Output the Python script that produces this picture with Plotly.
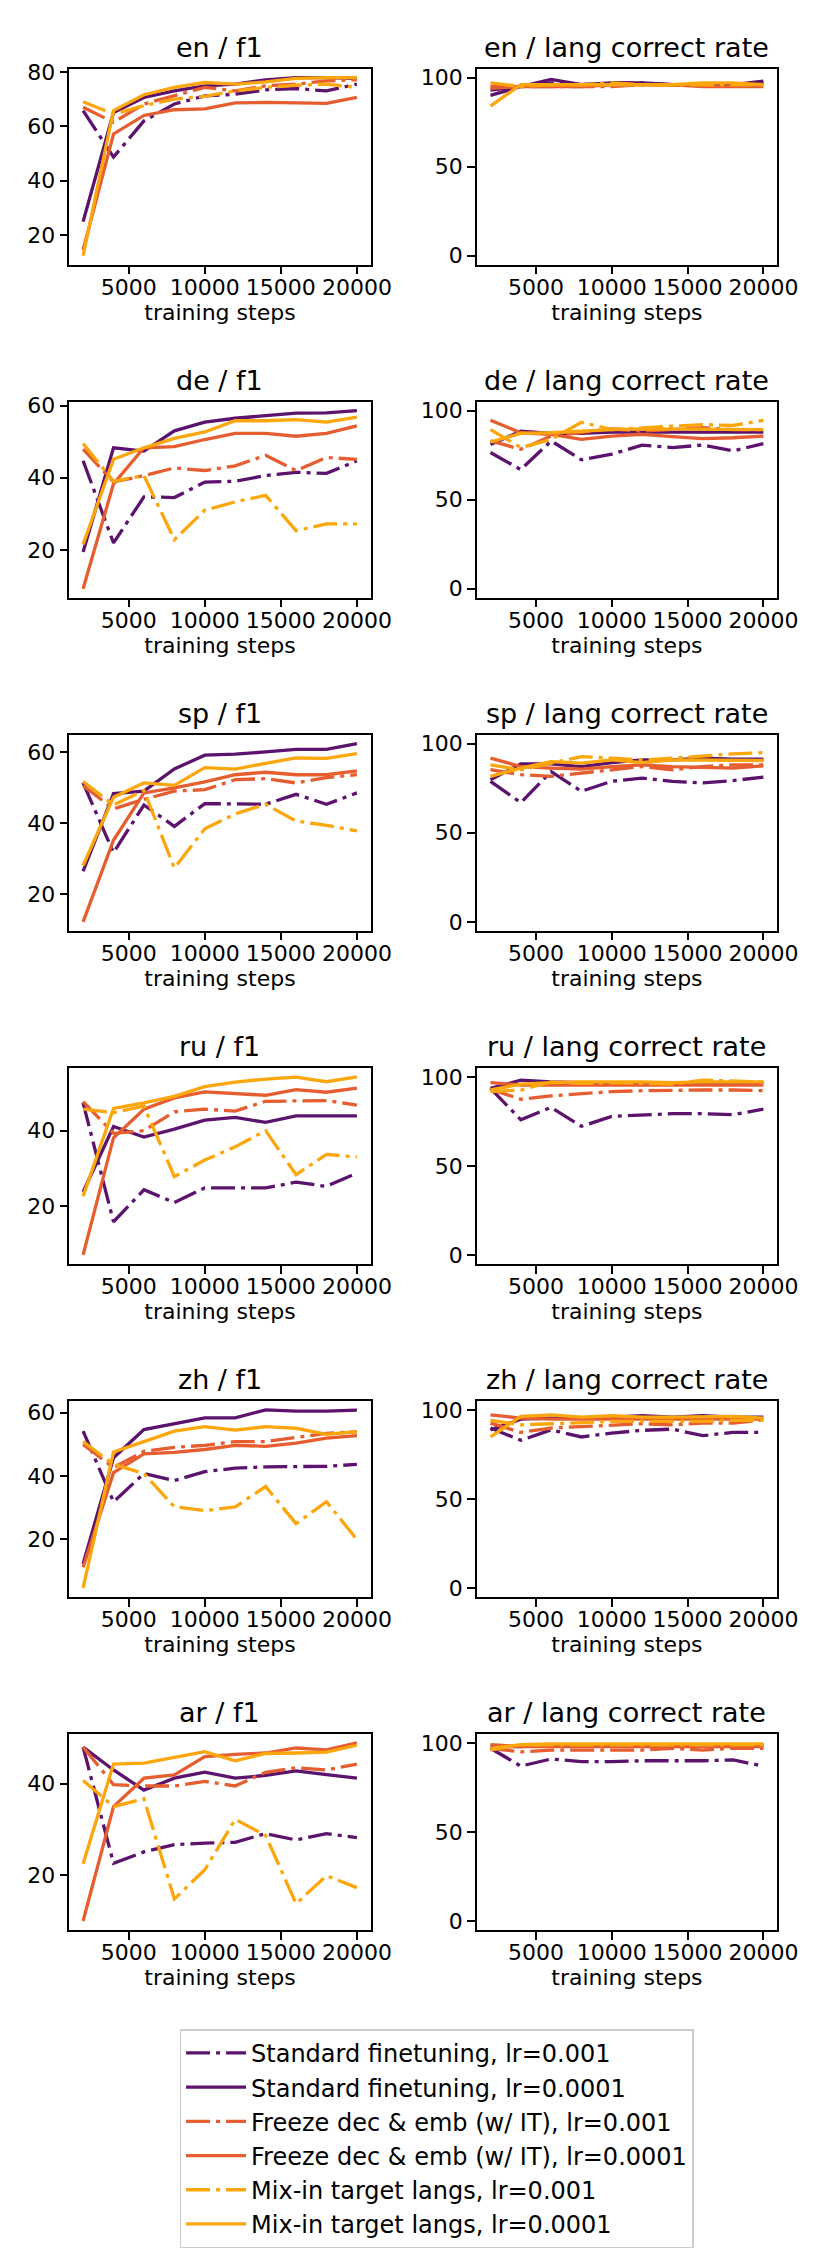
import plotly.graph_objects as go

# training steps shared by every panel
steps = [2000, 4000, 6000, 8000, 10000, 12000, 14000, 16000, 18000, 20000]
step_ticks = [5000, 10000, 15000, 20000]
step_labels = ["5000", "10000", "15000", "20000"]

langs = ["en", "de", "sp", "ru", "zh", "ar"]

methods = [
    "Standard finetuning, lr=0.001",
    "Standard finetuning, lr=0.0001",
    "Freeze dec & emb (w/ IT), lr=0.001",
    "Freeze dec & emb (w/ IT), lr=0.0001",
    "Mix-in target langs, lr=0.001",
    "Mix-in target langs, lr=0.0001",
]

# f1 per language, one row per method (same order as methods)
en_f1 = [
    [65.8, 48.7, 62, 68.2, 71.2, 71.8, 73.4, 73.9, 73, 75.5],
    [25, 65.1, 70.6, 73, 74.9, 75.5, 77.1, 77.9, 77.9, 77.6],
    [67, 61.5, 68.2, 71.2, 74.3, 73, 74.9, 75.5, 76.7, 77.1],
    [14.6, 57.2, 64, 66.1, 66.4, 68.6, 68.8, 68.6, 68.4, 70.6],
    [69, 64.5, 67.6, 70, 71, 73, 74.3, 75.1, 75.5, 74.3],
    [12.5, 65.8, 71.6, 74.3, 76.1, 75.5, 76.3, 77.6, 77.9, 77.9],
]
de_f1 = [
    [44.7, 21.9, 34.7, 34.5, 38.8, 39, 40.6, 41.5, 41.2, 44.7],
    [19.4, 48.3, 47.4, 53, 55.4, 56.5, 57.2, 57.9, 58, 58.6],
    [47.9, 38.8, 40.6, 42.7, 42, 43.3, 46.2, 42, 45.6, 45.1],
    [9.2, 38.3, 48.3, 48.6, 50.6, 52.3, 52.3, 51.5, 52.3, 54.4],
    [49.5, 39, 40.6, 22.8, 31, 33.3, 35.1, 25.3, 27.2, 27.2],
    [21.5, 45.1, 48.3, 50.9, 52.7, 55.8, 55.8, 56.1, 55.4, 56.8],
]
sp_f1 = [
    [51.3, 31.7, 45.1, 39.1, 45.5, 45.3, 45.3, 48.1, 45.3, 48.5],
    [26.5, 48.3, 49, 55.2, 59.1, 59.4, 60, 60.7, 60.7, 62.3],
    [50.5, 44, 46.7, 49, 49.4, 52.2, 52.5, 51.3, 52.8, 53.6],
    [12.3, 35.2, 48.5, 49.9, 51.6, 53.6, 54.3, 53.6, 53.6, 54.7],
    [51.7, 45.1, 49.2, 27.4, 38.4, 42.6, 45.3, 40.6, 39.4, 37.8],
    [28.1, 47.3, 51.3, 50.6, 55.6, 55.2, 56.8, 58.3, 58.2, 59.5],
]
ru_f1 = [
    [47.4, 15.8, 24.3, 20.9, 24.8, 24.8, 24.8, 26.3, 25.2, 28.7],
    [23.7, 41.1, 38.3, 40.4, 42.8, 43.5, 42.2, 43.9, 43.9, 43.9],
    [47.7, 39.3, 40, 45, 45.7, 45.2, 47.8, 47.8, 48, 46.8],
    [7, 38.1, 45.7, 48.7, 50.3, 49.8, 49.4, 50.9, 50.2, 51.3],
    [45.7, 44.8, 46.5, 27.8, 32.2, 35.7, 40, 28.3, 33.7, 33],
    [22.6, 45.9, 47.4, 49.1, 51.7, 52.9, 53.7, 54.2, 53, 54.3],
]
zh_f1 = [
    [54.2, 31.9, 40.8, 38.6, 41.4, 42.5, 42.9, 42.9, 43.1, 43.7],
    [12.3, 45.8, 54.7, 56.6, 58.4, 58.4, 60.9, 60.5, 60.5, 60.8],
    [50, 42.7, 47.8, 49.1, 49.7, 50.9, 50.9, 52.2, 53.5, 54],
    [11.2, 41.1, 47, 47.5, 48.4, 49.7, 49.4, 50.4, 52, 52.8],
    [50.9, 43.7, 40.8, 30.3, 29.1, 30.3, 36.7, 25, 31.9, 20],
    [4.7, 47.6, 50.9, 54.2, 55.6, 54.5, 55.6, 55.1, 53.2, 54],
]
ar_f1 = [
    [48, 22.6, 25.1, 26.7, 27, 27.2, 29.1, 27.7, 29.1, 28.2],
    [48, 43, 38.6, 41.2, 42.5, 41.2, 41.8, 42.8, 42, 41.2],
    [48, 39.8, 39.5, 39.5, 40.5, 39.5, 42.5, 43.5, 43, 44.3],
    [10, 35, 41.2, 41.9, 45.9, 46.4, 46.7, 47.8, 47.4, 48.9],
    [40.7, 35, 36.7, 14.8, 21.2, 32.2, 28.7, 13.8, 19.9, 17.3],
    [22.5, 44.3, 44.5, 45.7, 47, 45, 46.6, 46.7, 46.9, 48.4],
]

# language correct rate per language, same row order
en_lang = [
    [93, 95, 97, 96, 97, 97, 96, 96, 96, 97],
    [90, 95, 99, 96, 97, 97, 96, 96, 96, 98],
    [95, 95, 95, 95, 95, 96, 96, 96, 96, 96],
    [94, 95, 95, 95, 96, 96, 96, 95, 95, 95],
    [97, 95, 96, 96, 97, 96, 96, 96, 96, 96],
    [84, 96, 96, 96, 96, 96, 96, 97, 97, 96],
]
de_lang = [
    [76.5, 66.9, 83, 72.4, 75.6, 80.6, 79.3, 80.7, 77.4, 81.5],
    [81, 88.5, 87.2, 87.2, 88, 88, 87.6, 87.6, 88, 88],
    [83, 78.3, 85.7, 87.6, 89.8, 88.5, 89.4, 90.4, 89.4, 89.4],
    [94.6, 87.6, 86.7, 83.9, 85.7, 86.7, 85.4, 84.3, 84.8, 85.7],
    [89.4, 79.3, 83.9, 93.5, 89.4, 90.4, 91.3, 92.2, 91.7, 94.6],
    [82.4, 87.2, 87.6, 88.5, 89.4, 89.8, 89.8, 89.8, 89.4, 89.4],
]
sp_lang = [
    [78.9, 66.9, 84.4, 73.3, 78.9, 80.7, 78.9, 78, 79.3, 81.3],
    [79.8, 88.7, 88.7, 87.2, 89.4, 90.9, 90.9, 91.9, 91.3, 91.3],
    [85.4, 82.6, 81.7, 83.5, 85.4, 87.2, 85.4, 87.2, 88.1, 88.1],
    [91.9, 87.2, 86.3, 85.7, 87.2, 88.1, 87.2, 86.9, 86.3, 87.6],
    [88.1, 85.4, 89.1, 92.8, 91.9, 90.9, 91.9, 93.1, 94.3, 95],
    [81.7, 86.3, 90, 89.1, 90.9, 89.4, 90.9, 90.9, 90.9, 90.6],
]
ru_lang = [
    [93.5, 75.9, 82.8, 72.2, 77.8, 78.7, 79.3, 79.3, 78.7, 81.9],
    [93.5, 98.1, 97.2, 96.7, 96.7, 96.7, 96.3, 96.7, 96.7, 96.7],
    [93, 87.4, 89.3, 90.7, 91.7, 92.2, 92.6, 92.6, 92.6, 92.2],
    [96.7, 95.4, 95.4, 95.4, 95.4, 95.4, 95.4, 95.4, 95.4, 95.4],
    [91.7, 92.6, 97.2, 96.3, 96.7, 96.3, 95.9, 98.1, 97.8, 97.2],
    [92.6, 95.9, 96.7, 97.2, 97.2, 97.2, 96.7, 97.2, 97.2, 97.2],
]
zh_lang = [
    [89.8, 82.9, 88.8, 84.8, 87, 88.5, 89.2, 85.5, 87.4, 87.4],
    [88.8, 94.8, 95.4, 95.4, 95.9, 96.7, 95.9, 96.7, 95.9, 95.9],
    [92.6, 87.4, 89.8, 90.7, 91.6, 92.2, 91.6, 92.6, 92.6, 94.4],
    [97.2, 95.4, 94.8, 94.8, 94.4, 94.4, 94.4, 94.8, 94.8, 94.8],
    [94.1, 91.6, 92.2, 92.9, 93.5, 93.5, 93.5, 93.5, 94.1, 94.1],
    [84.8, 96.3, 97.2, 95.9, 96.7, 95.9, 95.9, 96.3, 96.3, 95.4],
]
ar_lang = [
    [97, 87, 91, 89.5, 89.5, 90, 90, 90, 90.5, 87],
    [98, 98, 99, 99, 99, 99, 99, 99, 99, 99],
    [97, 95, 96, 96, 96, 96, 97, 96, 97, 97],
    [99, 98, 98, 98, 98, 98, 98, 98, 98, 98],
    [96, 99, 99, 99, 99, 99, 99, 99, 99, 99],
    [97, 99, 99.5, 99.5, 99.5, 99.5, 99.5, 99.5, 99.5, 99.5],
]

f1_data = [en_f1, de_f1, sp_f1, ru_f1, zh_f1, ar_f1]
lang_data = [en_lang, de_lang, sp_lang, ru_lang, zh_lang, ar_lang]

# inferno-ish colours, dash-dot for lr=0.001
colors = ["#5b136e", "#5b136e", "#e65d2f", "#e65d2f", "#fba60c", "#fba60c"]
dashes = ["24px,6px,4px,6px", "solid"] * 3

W, H = 830, 2257
FONT = "DejaVu Sans"
col_px = [(63, 372), (481, 789)]
row_top0, row_pitch, row_h = 52, 335, 197


def pad(lo, hi, frac=0.05):
    # matplotlib style auto margins
    m = (hi - lo) * frac
    return [lo - m, hi + m]


fig = go.Figure()
annotations = []
axis_layout = {}

for r, lang in enumerate(langs):
    for c in range(2):
        idx = r * 2 + c + 1
        xname = "x" if idx == 1 else "x%d" % idx
        yname = "y" if idx == 1 else "y%d" % idx
        data = f1_data[r] if c == 0 else lang_data[r]
        for m in range(len(methods)):
            fig.add_trace(go.Scatter(
                x=steps, y=data[m], mode="lines", name=methods[m],
                line=dict(color=colors[m], width=3.3, dash=dashes[m]),
                legendgroup=methods[m], showlegend=(idx == 1),
                xaxis=xname, yaxis=yname,
            ))

        x0, x1 = col_px[c]
        top = row_top0 + r * row_pitch
        bot = top + row_h
        if c == 0:
            vals = [v for row in data for v in row]
            yr = pad(min(vals), max(vals))
            dt = 20
        else:
            yr = pad(0, 100)
            dt = 50

        common = dict(
            showline=True, linecolor="black", linewidth=1.5, mirror=True,
            ticks="outside", ticklen=8, tickwidth=1.5, tickcolor="black",
            showgrid=False, zeroline=False,
            tickfont=dict(family=FONT, size=22, color="black"),
        )
        axis_layout["xaxis" if idx == 1 else "xaxis%d" % idx] = dict(
            common, domain=[x0 / W, x1 / W], anchor=yname,
            range=pad(min(steps), max(steps)),
            tickvals=step_ticks, ticktext=step_labels, tickangle=0,
            ticklabelstandoff=-6,
            title=dict(text="training steps", standoff=2,
                       font=dict(family=FONT, size=22, color="black")),
        )
        axis_layout["yaxis" if idx == 1 else "yaxis%d" % idx] = dict(
            common, domain=[1 - bot / H, 1 - top / H], anchor=xname,
            range=yr, dtick=dt, tick0=0,
        )
        metric = "f1" if c == 0 else "lang correct rate"
        annotations.append(dict(
            text="%s / %s" % (lang, metric), xref="paper", yref="paper",
            x=(x0 + x1) / 2 / W, y=1 - top / H, xanchor="center",
            yanchor="bottom", yshift=4, showarrow=False,
            font=dict(family=FONT, size=27, color="black"),
        ))

fig.update_layout(
    width=W, height=H, autosize=False,
    margin=dict(l=0, r=0, t=0, b=0),
    paper_bgcolor="white", plot_bgcolor="white",
    font=dict(family=FONT, color="black"),
    annotations=annotations,
    legend=dict(
        x=176 / W, y=1 - 2024 / H, xanchor="left", yanchor="top",
        bordercolor="#cccccc", borderwidth=1.5, bgcolor="white",
        font=dict(family=FONT, size=24, color="black"),
        tracegroupgap=0, itemwidth=60,
    ),
    **axis_layout,
)

fig.write_html("out.html")
